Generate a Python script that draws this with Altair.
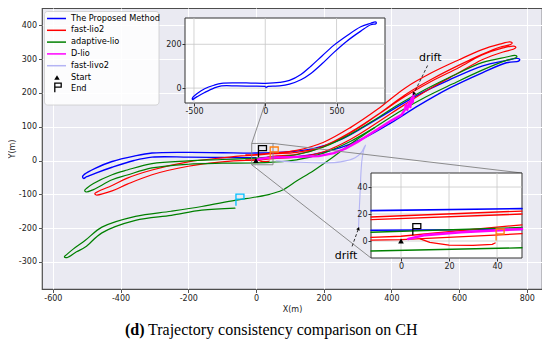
import math
import altair as alt
import pandas as pd

# ---------------- main view ----------------
W, H = 500, 281
MAIN_X_DOMAIN = [-632, 845]
MAIN_Y_DOMAIN = [-380, 451]
MAIN_X_TICKS = [-600, -400, -200, 0, 200, 400, 600, 800]
MAIN_Y_TICKS = [-300, -200, -100, 0, 100, 200, 300, 400]

METHODS = ["The Proposed Method", "fast-lio2", "adaptive-lio", "D-lio", "fast-livo2"]
METHOD_COLORS = ["#0000ff", "#ff0000", "#008000", "#ff00ff", "#b4b4f4"]
METHOD_WIDTHS = [1.4, 1.2, 1.2, 2.4, 1.1]

# ---------------- trajectories (main view, metres) ----------------
BLUE_X = [0, -100, -200, -307, -360, -425, -475, -500, -509, -512, -507, -475, -425, -360, -307, -200, -100, 0, 100, 170,
          250, 320, 400, 480, 570, 670, 740, 772, 779, 776, 740, 670, 570, 480, 400, 320, 250, 170, 100, 20, 4.5]
BLUE_Y = [8, 9, 10, 10, 0, -20, -38, -48, -53, -47, -41, -23, -3, 13, 22, 24, 23, 22, 26, 35,
          62, 100, 148, 195, 238, 280, 296, 302, 299, 294, 289, 260, 213, 162, 112, 67, 38, 18, 10, 8, 2.5]

RED_X = [-30, 0, 50, 120, 200, 280, 360, 440, 520, 600, 668, 720, 750, 757, 752, 720, 668, 600, 520, 440,
         360, 280, 200, 120, 50, 0, -30,
         -100, -200, -307, -380, -425, -465, -476, -472, -425, -380, -307, -200, -100, -30, 0, 50, 120, 200, 280,
         360, 440, 520, 600, 668, 730, 760, 768, 762, 730, 668, 600, 520, 440, 360, 280, 200, 120, 50, 0, -30]
RED_Y = [16.5, 17.8, 22, 30, 54, 98, 152, 214, 260, 298, 328, 344, 351, 348, 343, 335, 314, 282, 241, 194,
         136, 84, 43, 24, 20, 15.8, 14.5,
         8, -4, -28, -52, -74, -91, -98, -102, -90, -70, -42, -17, -4, 0.5, 0.7, 5.4, 10, 26, 63,
         113, 166, 216, 260, 298, 321, 329, 334, 338, 333, 312, 275, 235, 189, 135, 82, 41, 18, 12, 2.7, 2]
RED_END_X = [0, 8, 12, 20, 30, 38, 39.2]
RED_END_Y = [0.7, 1.5, -1, -3, -3.2, -2.5, -1.5]

GREEN_X = [0, 50, 120, 200, 280, 350, 420, 500, 580, 670, 740, 766, 771, 765, 740, 670, 580, 500, 420, 350,
           280, 200, 120, 50, 0, -100, -200, -307, -380, -425, -480, -500, -506, -502, -480, -425, -380, -307, -200, -100, 0]
GREEN_Y = [-7, -5, 2, 22, 57, 97, 142, 187, 226, 268, 296, 303, 308, 311, 306, 290, 250, 210, 165, 120,
           78, 40, 17, 10, 7, 3, -1, -9, -28, -42, -68, -82, -89, -93, -86, -57, -43, -22, -11, -8, -7]
GREEN_DRIFT_X = [350, 313, 270, 225, 170, 121, 77, 40, 0, -62, -160, -250, -356, -455, -504, -540, -560, -566, -558, -530,
                 -504, -455, -356, -250, -160, -62]
GREEN_DRIFT_Y = [97, 72, 42, 8, -30, -60, -88, -100, -108, -118, -136, -150, -165, -197, -236, -262, -279, -285, -287, -270,
                 -256, -214, -177, -162, -147, -141]

DLIO_X = [3, 10, 30, 50, 100, 185, 230, 264, 300, 343, 400, 430, 440, 443, 447, 452, 456, 460, 463, 466]
DLIO_Y = [1.5, 4.4, 7, 8.9, 10, 13, 22, 35, 55, 82, 118, 135, 150, 165, 150, 172, 158, 185, 172, 197]

LIVO_X = [60, 126, 200, 250, 293, 312, 320, 324, 318, 313, 310, 308, 305, 303]
LIVO_Y = [-1, -5, -7, -4, 8, 25, 40, 46, 30, 0, -40, -88, -150, -201]

START_X, START_Y = [0], [0]
END_X = [4.5, 39.2, -62]
END_Y = [2.5, -1.5, -141]
END_COLORS = ["#000000", "#ff7f0e", "#00bfff"]

DRIFT_TEXT_X = [515, 266]
DRIFT_TEXT_Y = [304, -281]
DRIFT_FROM_X = [507, 284]
DRIFT_FROM_Y = [281, -254]
DRIFT_TO_X = [466, 303]
DRIFT_TO_Y = [197, -201]

# ---------------- inset 1 (blue only) ----------------
INSET1_X_DOMAIN = [-563, 840]
INSET1_Y_DOMAIN = [-68, 320]
INSET1_X_RANGE = [143, 343]
INSET1_Y_RANGE = [95, 10]
INSET1_X_TICKS = [-500, 0, 500]
INSET1_Y_TICKS = [0, 200]
INSET1_LINK_X = 0

# ---------------- inset 2 (zoom on start) ----------------
INSET2_X_DOMAIN = [-12.5, 50.4]
INSET2_Y_DOMAIN = [-12.6, 50.4]
INSET2_X_RANGE = [329, 480]
INSET2_Y_RANGE = [250, 165]
INSET2_TICKS = [0, 20, 40]

I2_BLUE_U_X, I2_BLUE_U_Y = [-12.5, 50.4], [22.5, 24]
I2_BLUE_L_X, I2_BLUE_L_Y = [-12.5, 50.4], [8, 8.6]
I2_RED1_X, I2_RED1_Y = [-12.5, 50.4], [17.8, 22.2]
I2_RED2_X, I2_RED2_Y = [-12.5, 50.4], [15.8, 20]
I2_RED3_X, I2_RED3_Y = [-12.5, 0, 50.4], [2.7, 3.5, 12]
I2_RED4_X, I2_RED4_Y = [-12.5, 0, 50.4], [0.7, 1, 5.4]
I2_RED_DIP_X, I2_RED_DIP_Y = [8, 12, 20, 30, 38, 39.2], [1.5, -1, -3, -3.2, -2.5, -1.5]
I2_GREEN_U_X, I2_GREEN_U_Y = [-12.5, 50.4], [6.5, 10]
I2_GREEN_L_X, I2_GREEN_L_Y = [-12.5, 50.4], [-7.4, -5]
I2_MAG_X, I2_MAG_Y = [3, 10, 25, 50.4], [1.5, 4.4, 6.5, 8.9]

FLAG_PATH = "M0.2,-0.5 L0.2,-2.8 L1.8,-2.8 L1.8,-1.8 L0.2,-1.8"
LEGEND_LABELS = METHODS + ["Start", "End"]
CAPTION_BOLD = "(d)"
CAPTION_TEXT = "Trajectory consistency comparison on CH"
FONT = "DejaVu Sans"


def path_df(method, traj, xs, ys):
    return pd.DataFrame({"x": xs, "y": ys, "i": list(range(len(xs))), "traj": traj, "method": method})


MAIN_PATHS = [
    path_df(METHODS[0], "blue", BLUE_X, BLUE_Y),
    path_df(METHODS[1], "red", RED_X, RED_Y),
    path_df(METHODS[1], "red_end", RED_END_X, RED_END_Y),
    path_df(METHODS[2], "green", GREEN_X, GREEN_Y),
    path_df(METHODS[2], "green_drift", GREEN_DRIFT_X, GREEN_DRIFT_Y),
    path_df(METHODS[3], "dlio", DLIO_X, DLIO_Y),
    path_df(METHODS[4], "livo", LIVO_X, LIVO_Y),
]
INSET2_PATHS = [
    path_df(METHODS[0], "bu", I2_BLUE_U_X, I2_BLUE_U_Y),
    path_df(METHODS[0], "bl", I2_BLUE_L_X, I2_BLUE_L_Y),
    path_df(METHODS[1], "r1", I2_RED1_X, I2_RED1_Y),
    path_df(METHODS[1], "r2", I2_RED2_X, I2_RED2_Y),
    path_df(METHODS[1], "r3", I2_RED3_X, I2_RED3_Y),
    path_df(METHODS[1], "r4", I2_RED4_X, I2_RED4_Y),
    path_df(METHODS[1], "rd", I2_RED_DIP_X, I2_RED_DIP_Y),
    path_df(METHODS[2], "gu", I2_GREEN_U_X, I2_GREEN_U_Y),
    path_df(METHODS[2], "gl", I2_GREEN_L_X, I2_GREEN_L_Y),
    path_df(METHODS[3], "m", I2_MAG_X, I2_MAG_Y),
]
main_df = pd.concat(MAIN_PATHS, ignore_index=True)
inset2_df = pd.concat(INSET2_PATHS, ignore_index=True)

LABEL_EXPR = "'' + datum.value"

# ---------------- scales / axes ----------------
MAIN_X_AXIS = alt.Axis(values=MAIN_X_TICKS, title="X(m)", grid=True, gridColor="white", gridWidth=1,
                       domain=False, ticks=True, tickColor="#555555", tickSize=3.5, labelFontSize=8,
                       labelColor="#222222", titleFontSize=8, titleFontWeight="normal", titleColor="#222222",
                       titlePadding=3, labelPadding=2, labelExpr=LABEL_EXPR, labelFont=FONT, titleFont=FONT)
MAIN_Y_AXIS = alt.Axis(values=MAIN_Y_TICKS, title="Y(m)", grid=True, gridColor="white", gridWidth=1,
                       domain=False, ticks=True, tickColor="#555555", tickSize=3.5, labelFontSize=8,
                       labelColor="#222222", titleFontSize=8, titleFontWeight="normal", titleColor="#222222",
                       titlePadding=2, labelPadding=2, labelExpr=LABEL_EXPR, labelFont=FONT, titleFont=FONT)


def mx(f="x"):
    return alt.X(f"{f}:Q", scale=alt.Scale(domain=MAIN_X_DOMAIN, nice=False, zero=False), axis=MAIN_X_AXIS)


def my(f="y"):
    return alt.Y(f"{f}:Q", scale=alt.Scale(domain=MAIN_Y_DOMAIN, nice=False, zero=False), axis=MAIN_Y_AXIS)


def inset_axes(xr, yr, xt, yt):
    ax = alt.Axis(values=xt, orient="bottom", offset=yr[0] - H, title="", grid=False, domain=False,
                  tickColor="#333333", tickSize=3, labelFontSize=8, labelColor="#222222", labelPadding=1,
                  labelExpr=LABEL_EXPR, labelFont=FONT, zindex=3)
    ay = alt.Axis(values=yt, orient="left", offset=-xr[0], title="", grid=False, domain=False,
                  tickColor="#333333", tickSize=3, labelFontSize=8, labelColor="#222222", labelPadding=1,
                  labelExpr=LABEL_EXPR, labelFont=FONT, zindex=3)
    return ax, ay


I1_AX, I1_AY = inset_axes(INSET1_X_RANGE, INSET1_Y_RANGE, INSET1_X_TICKS, INSET1_Y_TICKS)
I2_AX, I2_AY = inset_axes(INSET2_X_RANGE, INSET2_Y_RANGE, INSET2_TICKS, INSET2_TICKS)


def i1x(f="x"):
    return alt.X(f"{f}:Q", scale=alt.Scale(domain=INSET1_X_DOMAIN, range=INSET1_X_RANGE, nice=False, zero=False), axis=I1_AX)


def i1y(f="y"):
    return alt.Y(f"{f}:Q", scale=alt.Scale(domain=INSET1_Y_DOMAIN, range=INSET1_Y_RANGE, nice=False, zero=False), axis=I1_AY)


def i2x(f="x"):
    return alt.X(f"{f}:Q", scale=alt.Scale(domain=INSET2_X_DOMAIN, range=INSET2_X_RANGE, nice=False, zero=False), axis=I2_AX)


def i2y(f="y"):
    return alt.Y(f"{f}:Q", scale=alt.Scale(domain=INSET2_Y_DOMAIN, range=INSET2_Y_RANGE, nice=False, zero=False), axis=I2_AY)


def to_main_x(px):
    return MAIN_X_DOMAIN[0] + px / W * (MAIN_X_DOMAIN[1] - MAIN_X_DOMAIN[0])


def to_main_y(py):
    return MAIN_Y_DOMAIN[1] - py / H * (MAIN_Y_DOMAIN[1] - MAIN_Y_DOMAIN[0])


def line_layers(df, X, Y, scale_w=1.0, smooth=True):
    layers = []
    for m, c, w in zip(METHODS, METHOD_COLORS, METHOD_WIDTHS):
        sub = df[df["method"] == m]
        if len(sub) == 0:
            continue
        kw = dict(color=c, strokeWidth=w * scale_w, strokeJoin="round", strokeCap="round")
        if smooth and m != "D-lio":
            kw["interpolate"] = "catmull-rom"
        layers.append(
            alt.Chart(sub).mark_line(**kw).encode(x=X(), y=Y(), detail="traj:N", order="i:Q")
        )
    return layers


def marker_layers(X, Y):
    start = alt.Chart(pd.DataFrame({"x": START_X, "y": START_Y})).mark_point(
        shape="triangle-up", filled=True, color="black", size=32, opacity=1).encode(x=X(), y=Y())
    ends = alt.Chart(pd.DataFrame({"x": END_X, "y": END_Y, "c": END_COLORS})).mark_point(
        shape=FLAG_PATH, filled=False, strokeWidth=1.3, size=100, opacity=1).encode(
        x=X(), y=Y(), color=alt.Color("c:N", scale=None))
    return [start, ends]


# ---------------- main layers ----------------
rect_df = pd.DataFrame({"x": [INSET2_X_DOMAIN[0]], "x2": [INSET2_X_DOMAIN[1]],
                        "y": [INSET2_Y_DOMAIN[0]], "y2": [INSET2_Y_DOMAIN[1]]})
indicator = alt.Chart(rect_df).mark_rect(fill="white", fillOpacity=0, stroke="#808080", strokeWidth=0.9).encode(
    x=mx("x"), x2="x2:Q", y=my("y"), y2="y2:Q")

link_df = pd.DataFrame({
    "x": [INSET2_X_DOMAIN[1], INSET2_X_DOMAIN[0], INSET2_X_DOMAIN[0]],
    "y": [INSET2_Y_DOMAIN[1], INSET2_Y_DOMAIN[0], INSET2_Y_DOMAIN[1]],
    "x2": [to_main_x(INSET2_X_RANGE[1]), to_main_x(INSET2_X_RANGE[0]),
           to_main_x(INSET1_X_RANGE[0] + (INSET1_LINK_X - INSET1_X_DOMAIN[0]) / (INSET1_X_DOMAIN[1] - INSET1_X_DOMAIN[0]) * (INSET1_X_RANGE[1] - INSET1_X_RANGE[0]))],
    "y2": [to_main_y(INSET2_Y_RANGE[1]), to_main_y(INSET2_Y_RANGE[0]), to_main_y(INSET1_Y_RANGE[0])],
})
links = alt.Chart(link_df).mark_rule(color="#808080", strokeWidth=0.9).encode(x=mx("x"), y=my("y"), x2="x2:Q", y2="y2:Q")

px_x = W / (MAIN_X_DOMAIN[1] - MAIN_X_DOMAIN[0])
px_y = H / (MAIN_Y_DOMAIN[1] - MAIN_Y_DOMAIN[0])
angles = []
for fx, fy, tx, ty in zip(DRIFT_FROM_X, DRIFT_FROM_Y, DRIFT_TO_X, DRIFT_TO_Y):
    dx = (tx - fx) * px_x
    dy = -(ty - fy) * px_y
    angles.append(math.degrees(math.atan2(dx, -dy)) % 360)
drift_df = pd.DataFrame({"tx": DRIFT_TEXT_X, "ty": DRIFT_TEXT_Y, "x": DRIFT_FROM_X, "y": DRIFT_FROM_Y,
                         "x2": DRIFT_TO_X, "y2": DRIFT_TO_Y, "a": angles, "t": ["drift", "drift"]})
drift_rules = alt.Chart(drift_df).mark_rule(color="black", strokeWidth=0.8, strokeDash=[3, 2]).encode(
    x=mx("x"), y=my("y"), x2="x2:Q", y2="y2:Q")
drift_heads = alt.Chart(drift_df).mark_point(shape="triangle-up", filled=True, color="black", size=14, opacity=1).encode(
    x=mx("x2"), y=my("y2"), angle=alt.Angle("a:Q", scale=None))
drift_text = alt.Chart(drift_df).mark_text(font=FONT, fontSize=11, color="black", align="center", baseline="middle").encode(
    x=mx("tx"), y=my("ty"), text="t:N")

# legend (drawn in pixel space, top-left of plot)
LEG_ROW0, LEG_STEP = 10.5, 11.8
leg_df = pd.DataFrame({"label": LEGEND_LABELS, "row": list(range(len(LEGEND_LABELS)))})
leg_df["ly"] = LEG_ROW0 + leg_df["row"] * LEG_STEP
leg_df["col"] = METHOD_COLORS + ["#000000", "#000000"]
leg_box = alt.Chart(pd.DataFrame({"a": [0]})).mark_rect(
    fill="white", fillOpacity=0.85, stroke="#cccccc", strokeWidth=0.8, cornerRadius=3).encode(
    x=alt.value(2.5), x2=alt.value(117), y=alt.value(3.5), y2=alt.value(97))
leg_lines = alt.Chart(leg_df[leg_df["row"] < 5]).mark_rule(strokeWidth=1.5).encode(
    x=alt.value(5), x2=alt.value(24), y=alt.Y("ly:Q", scale=None, axis=None),
    color=alt.Color("col:N", scale=None))
leg_text = alt.Chart(leg_df).mark_text(font=FONT, fontSize=8.2, color="black", align="left", baseline="middle").encode(
    x=alt.value(29), y=alt.Y("ly:Q", scale=None, axis=None), text="label:N")
leg_start = alt.Chart(leg_df[leg_df["label"] == "Start"]).mark_point(
    shape="triangle-up", filled=True, color="black", size=30, opacity=1).encode(
    x=alt.value(15), y=alt.Y("ly:Q", scale=None, axis=None))
leg_end = alt.Chart(leg_df[leg_df["label"] == "End"]).mark_point(
    shape=FLAG_PATH, filled=False, color="black", strokeWidth=1.3, size=64, opacity=1).encode(
    x=alt.value(12), y=alt.Y("ly:Q", scale=None, axis=None), yOffset=alt.value(5))

caption_bold = alt.Chart(pd.DataFrame({"a": [0]})).mark_text(
    font="Liberation Serif", fontSize=16, fontWeight="bold", color="black", align="left", baseline="alphabetic").encode(
    x=alt.value(83), y=alt.value(327), text=alt.value(CAPTION_BOLD))
caption_rest = alt.Chart(pd.DataFrame({"a": [0]})).mark_text(
    font="Liberation Serif", fontSize=16, color="black", align="left", baseline="alphabetic").encode(
    x=alt.value(106), y=alt.value(327), text=alt.value(CAPTION_TEXT))

main_layer = alt.layer(
    *line_layers(main_df, mx, my), indicator, links, *marker_layers(mx, my),
    drift_rules, drift_heads, drift_text, leg_box, leg_lines, leg_text, leg_start, leg_end,
    caption_bold, caption_rest,
)

# ---------------- insets ----------------
def inset_frame(XF, YF, xd, yd, xt, yt):
    bg = alt.Chart(pd.DataFrame({"x": [xd[0]], "x2": [xd[1]], "y": [yd[0]], "y2": [yd[1]]})).mark_rect(
        fill="white", stroke="#333333", strokeWidth=1).encode(x=XF("x"), x2="x2:Q", y=YF("y"), y2="y2:Q")
    gx = alt.Chart(pd.DataFrame({"x": xt, "y": [yd[0]] * len(xt), "y2": [yd[1]] * len(xt)})).mark_rule(
        color="#c8c8c8", strokeWidth=0.8).encode(x=XF("x"), y=YF("y"), y2="y2:Q")
    gy = alt.Chart(pd.DataFrame({"y": yt, "x": [xd[0]] * len(yt), "x2": [xd[1]] * len(yt)})).mark_rule(
        color="#c8c8c8", strokeWidth=0.8).encode(x=XF("x"), x2="x2:Q", y=YF("y"))
    return [bg, gx, gy]


inset1_df = path_df(METHODS[0], "blue", BLUE_X, BLUE_Y)
inset1_layer = alt.layer(
    *inset_frame(i1x, i1y, INSET1_X_DOMAIN, INSET1_Y_DOMAIN, INSET1_X_TICKS, INSET1_Y_TICKS),
    *line_layers(inset1_df, i1x, i1y, 0.9),
)

inset2_layer = alt.layer(
    *inset_frame(i2x, i2y, INSET2_X_DOMAIN, INSET2_Y_DOMAIN, INSET2_TICKS, INSET2_TICKS),
    *line_layers(inset2_df, i2x, i2y, 1.1, smooth=False),
    *marker_layers(i2x, i2y),
)

chart = (
    alt.layer(main_layer, inset1_layer, inset2_layer)
    .resolve_scale(x="independent", y="independent")
    .properties(width=W, height=H, padding={"left": 0, "top": 0, "right": 0, "bottom": 0})
    .configure_view(fill="#EAEAF2", stroke="#4d4d4d", strokeWidth=1.2)
)

chart.save("out.html", embed_options={"renderer": "svg", "actions": False})
